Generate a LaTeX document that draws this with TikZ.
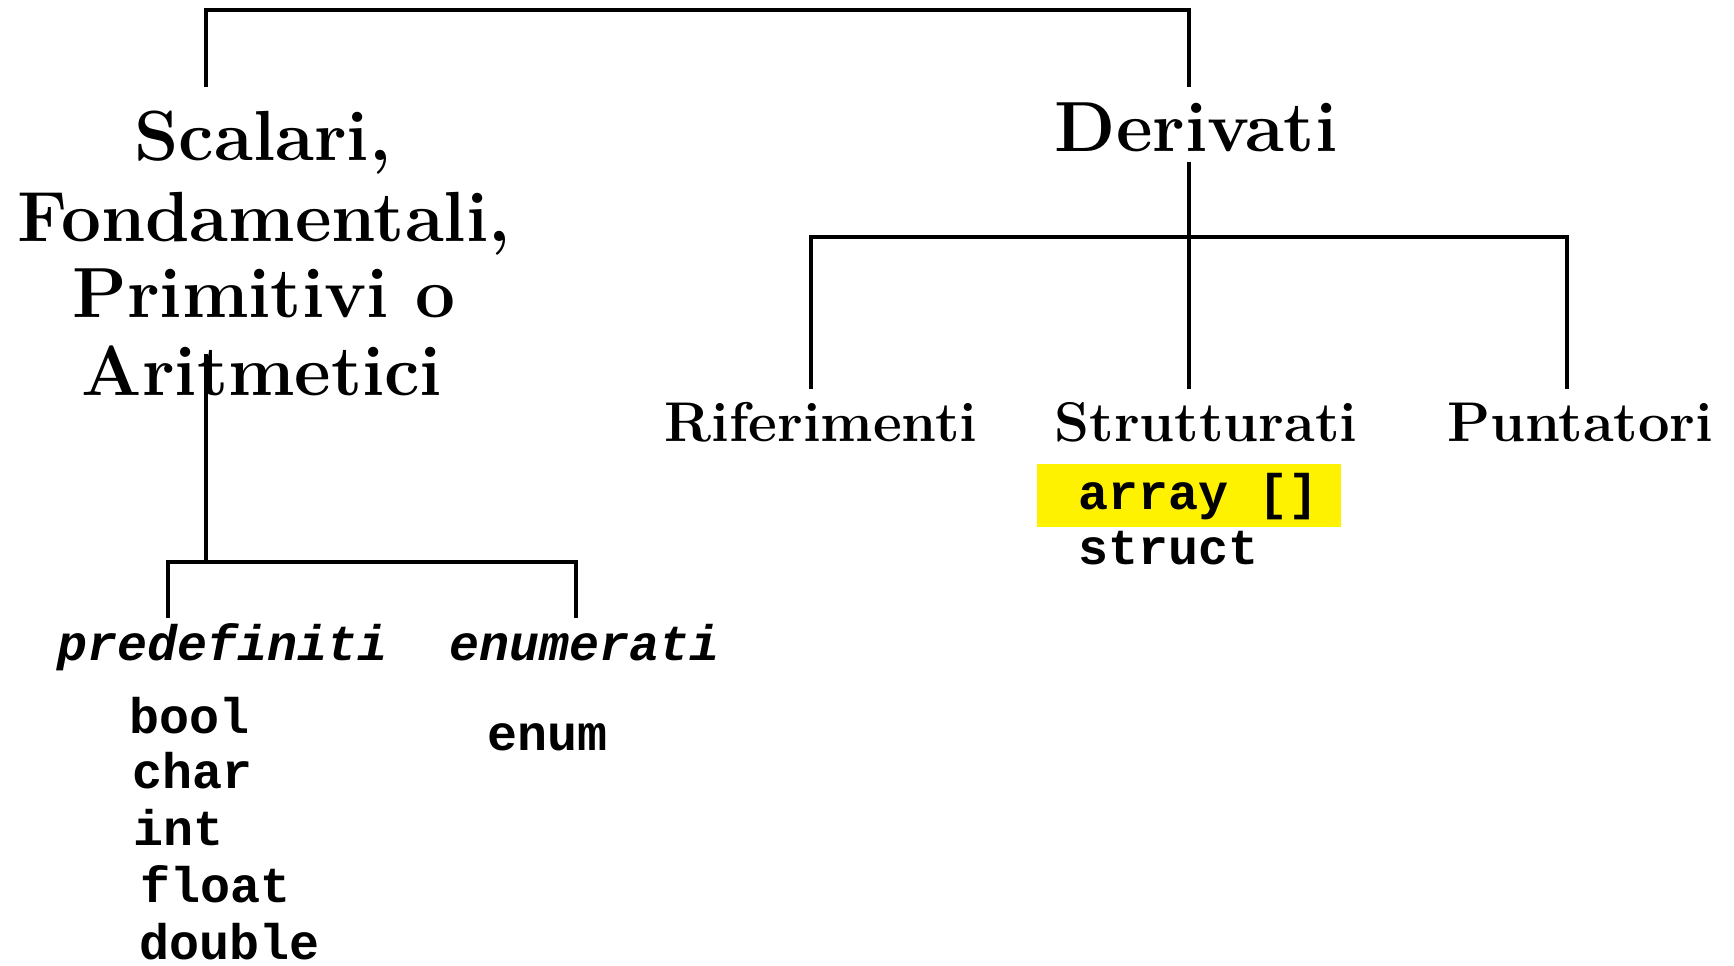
\documentclass[tikz,border=0pt]{standalone}
\usepackage{fontspec}
\newfontfamily\courfont{Liberation Mono}
\begin{document}
\begin{tikzpicture}[x=1pt,y=-1pt,
  head/.style={font=\fontsize{71}{78}\selectfont\bfseries, inner sep=0pt, anchor=base},
  sub/.style={font=\fontsize{56}{60}\selectfont\bfseries, inner sep=0pt, anchor=base},
  cat/.style={font=\fontsize{50}{54}\selectfont\courfont\bfseries\itshape, inner sep=0pt, anchor=base},
  code/.style={font=\fontsize{50}{54}\selectfont\courfont\bfseries, inner sep=0pt, anchor=base west},
  link/.style={line width=3.5pt, line cap=rect}]
\useasboundingbox (0,0) rectangle (1734,966);
% highlight
\fill[yellow] (1037,464) rectangle (1341,527);
% headings
\node[head] (sc1) at (263,160) {Scalari,};
\node[head] (sc2) at (264,241) {Fondamentali,};
\node[head] (sc3) at (264,317) {Primitivi o};
\node[head] (sc4) at (262,395) {Aritmetici};
\node[head] (der) at (1196,151) {Derivati};
\node[sub] (rif) at (821,441) {Riferimenti};
\node[sub] (str) at (1206,441) {Strutturati};
\node[sub] (pun) at (1580,441) {Puntatori};
\node[cat] (pre) at (223,660) {predefiniti};
\node[cat] (enu) at (585,660) {enumerati};
\node[code] (arr) at (1078,509) {array []};
\node[code] (sct) at (1078,564) {struct};
\node[code] (boo) at (129,733) {bool};
\node[code] (cha) at (132,788) {char};
\node[code] (int) at (133,845) {int};
\node[code] (flo) at (140,902) {float};
\node[code] (dou) at (139,959) {double};
\node[code] (enm) at (487,750) {enum};
% connector points
\coordinate (scTop) at (206,85);
\coordinate (derTop) at (1189,85);
\coordinate (derBot) at (1189,164);
\coordinate (rifTop) at (811,387);
\coordinate (strTop) at (1189,387);
\coordinate (punTop) at (1567,387);
\coordinate (scBot) at (206,356);
\coordinate (preTop) at (168,616);
\coordinate (enuTop) at (576,616);
% connectors
\draw[link] (scTop) |- (1189,10) -- (derTop);
\draw[link] (derBot) -- (strTop);
\draw[link] (rifTop) |- (1189,237) -| (punTop);
\draw[link] (scBot) -- (206,562);
\draw[link] (preTop) |- (206,562) -| (enuTop);
\end{tikzpicture}
\end{document}
